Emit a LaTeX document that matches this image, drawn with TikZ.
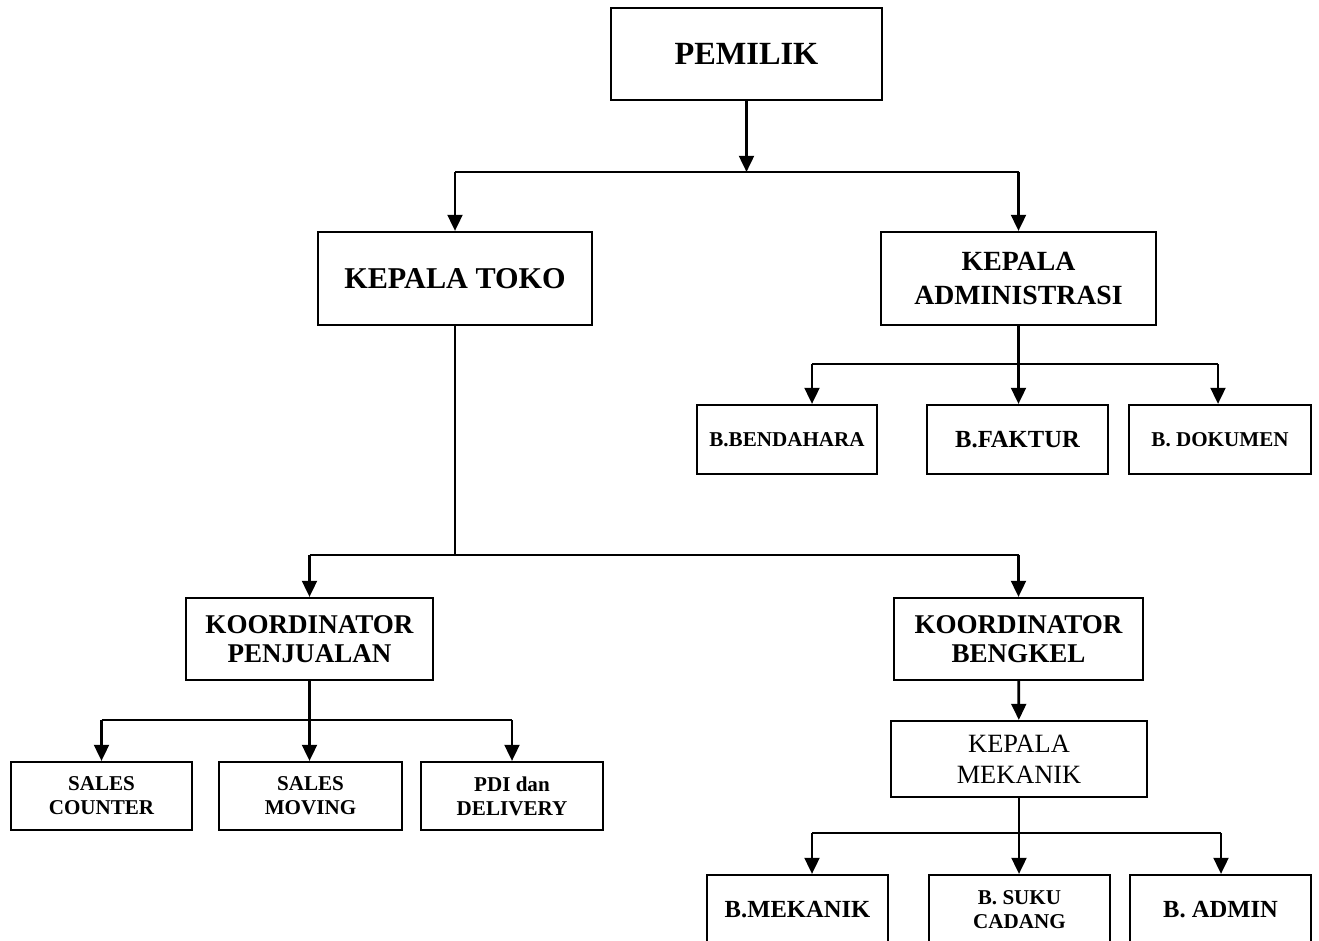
\documentclass[tikz,border=0pt]{standalone}
\usepackage{fontspec}
\setmainfont{Liberation Serif}
\usetikzlibrary{arrows.meta}

\begin{document}
\begin{tikzpicture}
\tikzstyle{box}=[draw, line width=0.6pt, align=center, inner sep=0pt]
\tikzstyle{link}=[line width=0.8pt]
\tikzstyle{arr}=[link, -{Triangle[width=4.2pt,length=4.6pt]}]
\tikzstyle{top}=[font=\bfseries\fontsize{9.2}{11}\selectfont]
\tikzstyle{big}=[font=\bfseries\fontsize{8.6}{9.7}\selectfont]
\tikzstyle{bigtwo}=[font=\bfseries\fontsize{7.9}{9.7}\selectfont]
\tikzstyle{mid}=[font=\bfseries\fontsize{7.7}{8.3}\selectfont]
\tikzstyle{midb}=[font=\bfseries\fontsize{7}{8}\selectfont]
\tikzstyle{small}=[font=\bfseries\fontsize{6}{6.8}\selectfont]
\tikzstyle{plain}=[font=\fontsize{7.5}{8.8}\selectfont]
\useasboundingbox (0,0) rectangle (13.19,-9.41);
\clip (0,0) rectangle (13.19,-9.41);
% boxes
\node[box,top,minimum width=2.71cm,minimum height=0.92cm] (pemilik) at (7.465,-0.54) {PEMILIK};
\node[box,big,minimum width=2.74cm,minimum height=0.93cm] (toko) at (4.55,-2.785) {KEPALA TOKO};
\node[box,bigtwo,minimum width=2.75cm,minimum height=0.93cm] (admin) at (10.185,-2.785) {KEPALA\\ADMINISTRASI};
\node[box,small,minimum width=1.80cm,minimum height=0.69cm] (bendahara) at (7.87,-4.395) {B.BENDAHARA};
\node[box,midb,minimum width=1.81cm,minimum height=0.69cm] (faktur) at (10.175,-4.395) {B.FAKTUR};
\node[box,small,minimum width=1.82cm,minimum height=0.69cm] (dokumen) at (12.20,-4.395) {B. DOKUMEN};
\node[box,mid,minimum width=2.47cm,minimum height=0.82cm] (penjualan) at (3.095,-6.39) {KOORDINATOR\\PENJUALAN};
\node[box,mid,minimum width=2.49cm,minimum height=0.82cm] (bengkel) at (10.185,-6.39) {KOORDINATOR\\BENGKEL};
\node[box,small,minimum width=1.81cm,minimum height=0.68cm] (counter) at (1.015,-7.96) {SALES\\COUNTER};
\node[box,small,minimum width=1.83cm,minimum height=0.68cm] (moving) at (3.105,-7.96) {SALES\\MOVING};
\node[box,small,minimum width=1.82cm,minimum height=0.68cm] (pdi) at (5.12,-7.96) {PDI dan\\DELIVERY};
\node[box,plain,minimum width=2.56cm,minimum height=0.76cm] (mekanik) at (10.19,-7.59) {KEPALA\\MEKANIK};
\node[box,midb,minimum width=1.81cm,minimum height=0.70cm] (bmekanik) at (7.975,-9.10) {B.MEKANIK};
\node[box,small,minimum width=1.81cm,minimum height=0.70cm] (suku) at (10.195,-9.10) {B. SUKU\\CADANG};
\node[box,midb,minimum width=1.81cm,minimum height=0.70cm] (badmin) at (12.205,-9.10) {B. ADMIN};
% junctions
\coordinate (j0) at (7.465,-1.72);
\coordinate (j1) at (4.55,-5.55);
\coordinate (j2w) at (8.12,-3.64);
\coordinate (j2e) at (12.18,-3.64);
\coordinate (j3) at (3.095,-7.20);
\coordinate (j4w) at (8.12,-8.33);
\coordinate (j4e) at (12.21,-8.33);
% connectors
\draw[arr] (pemilik) -- (j0);
\draw[link] (toko |- j0) -- (admin |- j0);
\draw[arr] (toko |- j0) -- (toko);
\draw[arr] (admin |- j0) -- (admin);
\draw[arr] (admin) -- (admin |- faktur.north);
\draw[link] (j2w) -- (j2e);
\draw[arr] (j2w) -- (j2w |- bendahara.north);
\draw[arr] (j2e) -- (j2e |- dokumen.north);
\draw[link] (toko) -- (j1);
\draw[link] (penjualan |- j1) -- (bengkel |- j1);
\draw[arr] (penjualan |- j1) -- (penjualan);
\draw[arr] (bengkel |- j1) -- (bengkel);
\draw[arr] (penjualan) -- (penjualan |- moving.north);
\draw[link] (counter |- j3) -- (pdi |- j3);
\draw[arr] (counter |- j3) -- (counter);
\draw[arr] (pdi |- j3) -- (pdi);
\draw[arr] (bengkel) -- (mekanik);
\draw[arr] (mekanik) -- (mekanik |- suku.north);
\draw[link] (j4w) -- (j4e);
\draw[arr] (j4w) -- (j4w |- bmekanik.north);
\draw[arr] (j4e) -- (j4e |- badmin.north);
\end{tikzpicture}
\end{document}
